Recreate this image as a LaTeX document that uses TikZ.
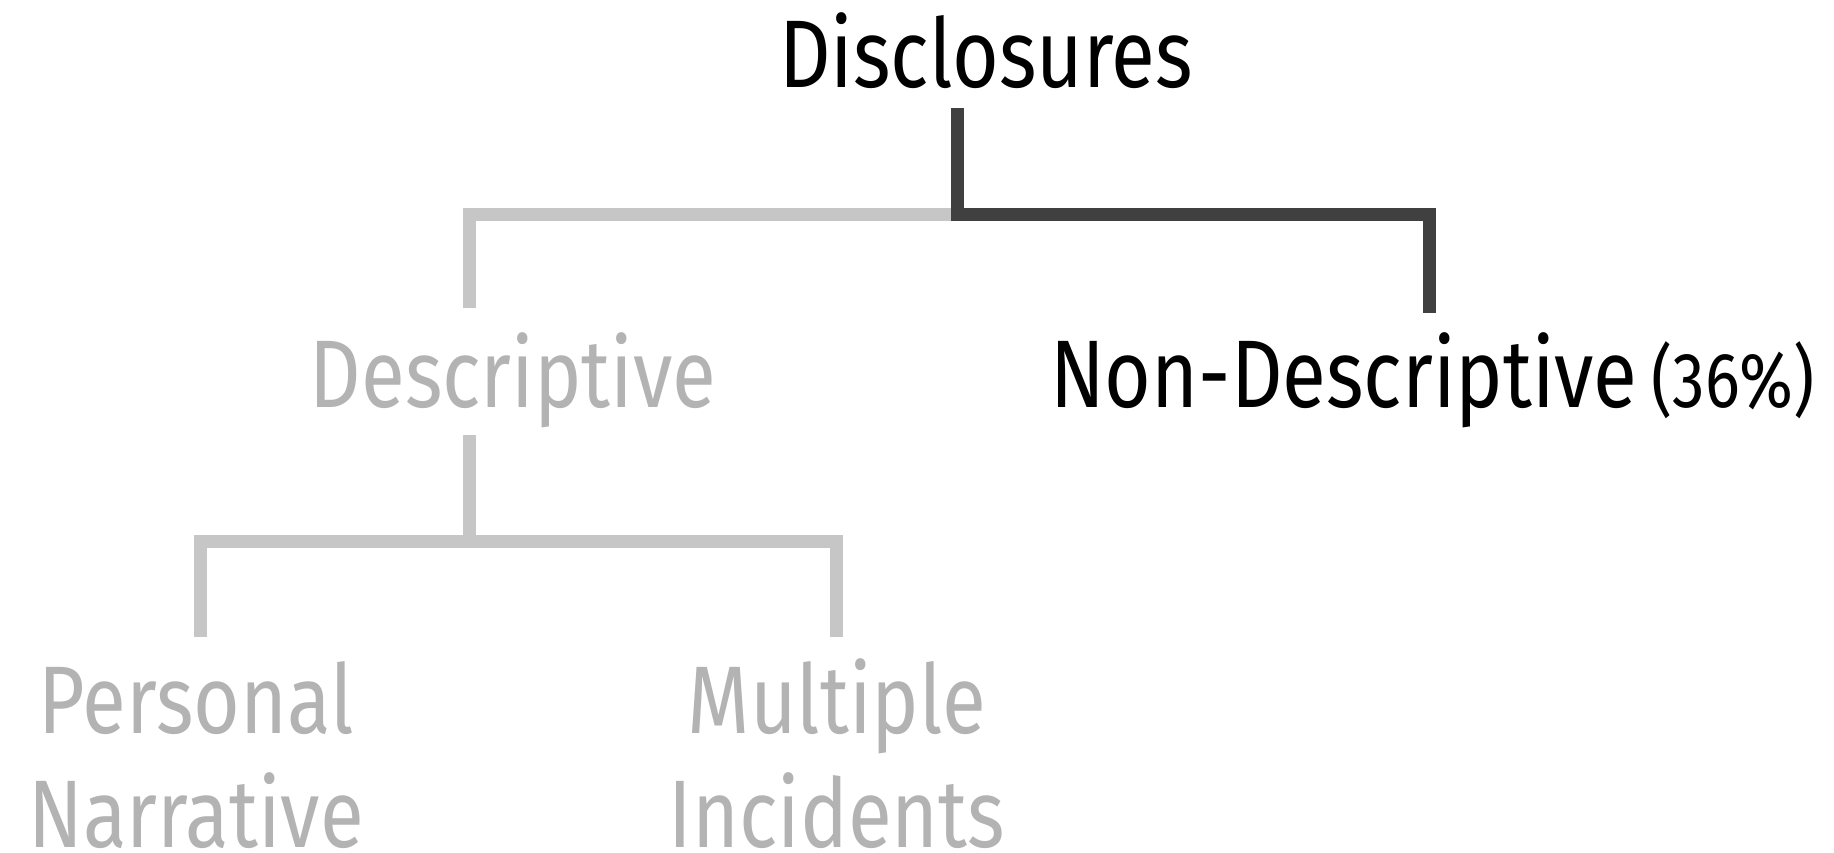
\documentclass[tikz,border=0pt]{standalone}
\usepackage{fontspec}
\setmainfont{Fira Sans}[FakeStretch=0.835]
\definecolor{txtgray}{HTML}{B3B3B3}
\definecolor{linelight}{HTML}{C6C6C6}
\definecolor{linedark}{HTML}{404040}
\tikzset{
  lbl/.style={inner sep=0pt, anchor=base, font=\fontsize{96}{114}\selectfont, align=center},
  on/.style={lbl, text=black},
  off/.style={lbl, text=txtgray},
  darkline/.style={draw=linedark, line width=13pt, line join=miter},
  lightline/.style={draw=linelight, line width=13pt, line join=miter}
}
\begin{document}
\begin{tikzpicture}[x=1pt,y=-1pt]
\useasboundingbox (0,0) rectangle (1834,853);
% nodes
\node[on] (root) at (986,88) {Disclosures};
\node[off] (desc) at (513,407) {Descriptive};
\node[on, anchor=base west] (nondesc) at (1050,407) {Non-Descriptive\hspace{14pt}{\fontsize{78}{90}\selectfont(36\%)}};
\node[off, text depth=0pt] (pers) at (196,847) {Personal\\Narrative};
\node[off, text depth=0pt] (mult) at (837,847) {Multiple\\Incidents};
% junction coordinates
\coordinate (rootbot) at (957,108);
\coordinate (j1) at (957,215);
\coordinate (desctop) at (469,308);
\coordinate (nontop) at (1429,313);
\coordinate (descbot) at (469,435);
\coordinate (j2) at (469,541);
\coordinate (perstop) at (200,637);
\coordinate (multtop) at (836,637);
% connectors
\draw[lightline] (desctop) -- (desctop |- j1) -- (j1);
\draw[lightline] (descbot) -- (j2);
\draw[lightline] (perstop) -- (perstop |- j2) -- (multtop |- j2) -- (multtop);
\draw[darkline] (rootbot) -- (j1) -- (nontop |- j1) -- (nontop);
\end{tikzpicture}
\end{document}
